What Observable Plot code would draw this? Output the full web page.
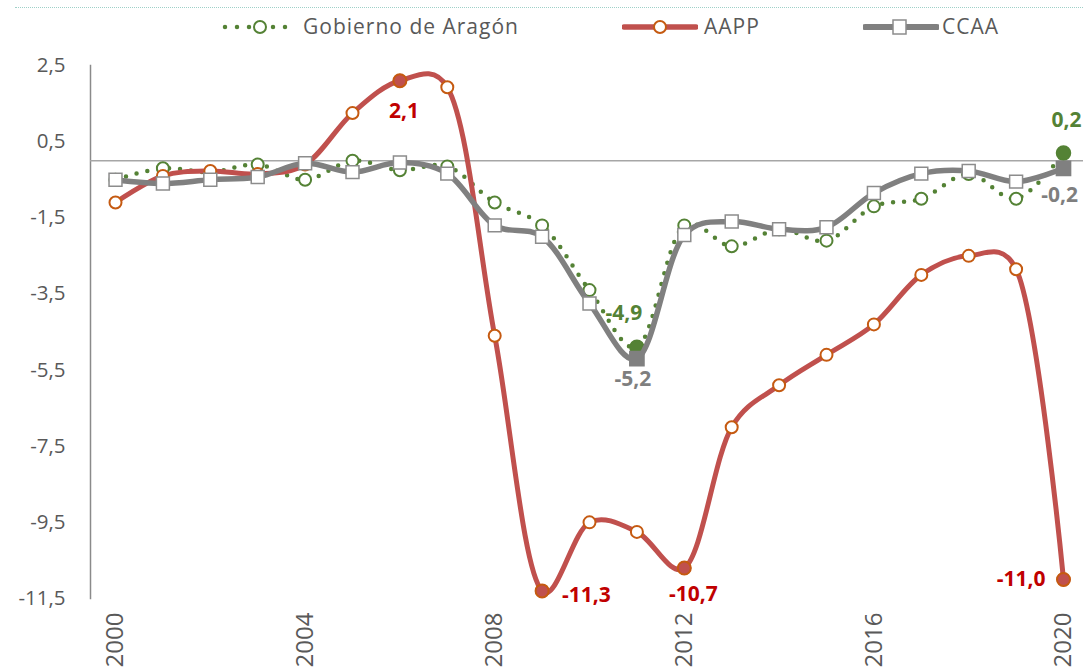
<!DOCTYPE html>
<html><head><meta charset="utf-8">
<script src="https://cdn.jsdelivr.net/npm/d3@7"></script>
<script src="https://cdn.jsdelivr.net/npm/@observablehq/plot@0.6"></script>
<style>
body{margin:0;background:#fff;}
#wrap{width:1083px;height:669px;position:relative;overflow:hidden;font-family:"Open Sans",sans-serif;background:#fff;}
#topline{position:absolute;left:15px;right:0;top:7px;border-top:1px dotted #9fd0c8;}
#legend{position:relative;height:50px;}
.sym{position:absolute;top:13px;}
.lab{position:absolute;top:11px;font-size:21px;color:#595959;letter-spacing:1px;line-height:30px;white-space:nowrap;}
#chart svg{display:block;}
</style></head><body>
<div id="wrap"><div id="topline"></div><div id="legend"></div><div id="chart"></div></div>
<script>
// ---- data ----
const years = [2000,2001,2002,2003,2004,2005,2006,2007,2008,2009,2010,2011,2012,2013,2014,2015,2016,2017,2018,2019,2020];
const aragon = [-0.5,-0.2,-0.3,-0.1,-0.5,0.0,-0.25,-0.15,-1.1,-1.7,-3.4,-4.9,-1.7,-2.25,-1.8,-2.1,-1.2,-1.0,-0.35,-1.0,0.2];
const aapp   = [-1.1,-0.4,-0.27,-0.35,-0.1,1.25,2.1,1.93,-4.6,-11.3,-9.5,-9.75,-10.7,-7.0,-5.9,-5.1,-4.3,-3.0,-2.5,-2.85,-11.0];
const ccaa   = [-0.5,-0.6,-0.5,-0.43,-0.07,-0.3,-0.05,-0.34,-1.7,-2.0,-3.75,-5.2,-1.95,-1.6,-1.8,-1.75,-0.85,-0.34,-0.27,-0.55,-0.2];
const seriesNames = ["Gobierno de Aragón","AAPP","CCAA"];
const aragonMarked = [2011,2020];
const aappMarked = [2006,2009,2012,2020];
const ccaaMarked = [2011,2020];
const yTicks = [2.5,0.5,-1.5,-3.5,-5.5,-7.5,-9.5,-11.5];
const xTicks = [2000,2004,2008,2012,2016,2020];

// ---- styles ----
const GREEN="#548235", RED="#c0504d", REDM="#c55a11", GRAY="#808080";
const LRED="#c00000", LGRAY="#7f7f7f";
const fmt = v => d3.format(".1f")(v).replace(".",",").replace("−","-");

const tbl = arr => years.map((year,i)=>({year, value:arr[i]}));
const A = tbl(aragon), P = tbl(aapp), C = tbl(ccaa);
const pick = (t, ys) => t.filter(d=>ys.includes(d.year));

// ---- legend ----
const legend = document.getElementById("legend");
legend.innerHTML = `
<svg class="sym" style="left:220px" width="72" height="28"><line x1="5" y1="14" x2="68" y2="14" stroke="${GREEN}" stroke-width="4.5" stroke-dasharray="0 12" stroke-linecap="round"/><circle cx="40" cy="14" r="6" fill="white" stroke="${GREEN}" stroke-width="2"/></svg>
<div class="lab" style="left:303px">${seriesNames[0]}</div>
<svg class="sym" style="left:622px" width="76" height="28"><line x1="2" y1="14" x2="74" y2="14" stroke="${RED}" stroke-width="5.5" stroke-linecap="round"/><circle cx="38" cy="14" r="6" fill="white" stroke="${REDM}" stroke-width="2"/></svg>
<div class="lab" style="left:704px">${seriesNames[1]}</div>
<svg class="sym" style="left:863px" width="76" height="28"><line x1="2" y1="14" x2="74" y2="14" stroke="${GRAY}" stroke-width="6" stroke-linecap="round"/><rect x="30" y="7" width="13" height="14" fill="white" stroke="#8c8c8c" stroke-width="1.5"/></svg>
<div class="lab" style="left:942px">${seriesNames[2]}</div>`;

const lbl = (t, ys, fill, o) => Plot.text(pick(t, ys), {x:"year", y:"value", text:d=>fmt(d.value), fill, fontSize:21, fontWeight:"bold", ...o});
const CURVE = {curve:"catmull-rom", tension:0.25};

const chart = Plot.plot({
  width:1083, height:619, marginTop:15, marginBottom:71, marginLeft:90, marginRight:0,
  x:{domain:[2000,2020], range:[115,1063], label:null},
  y:{domain:[-11.5,2.5], label:null},
  style:{fontFamily:"Open Sans", background:"white", overflow:"visible"},
  marks:[
    Plot.frame({anchor:"left", stroke:"#8a8a8a", strokeWidth:1.5}),
    Plot.ruleY([0], {stroke:"#a6a6a6", strokeWidth:1.5}),
    Plot.axisY({ticks:yTicks, tickSize:0, tickPadding:25, tickFormat:fmt, fontSize:20.5, color:"#595959", label:null}),
    Plot.axisX({ticks:xTicks, tickSize:0, tickRotate:-90, tickPadding:14, tickFormat:d=>String(d), fontSize:24, color:"#595959", label:null}),
    // Gobierno de Aragón
    Plot.line(A, {x:"year", y:"value", stroke:GREEN, strokeWidth:4.5, strokeDasharray:"0 11", strokeLinecap:"round", ...CURVE}),
    Plot.dot(A, {x:"year", y:"value", r:6, fill:"white", stroke:GREEN, strokeWidth:2}),
    Plot.dot(pick(A, aragonMarked), {x:"year", y:"value", r:7, fill:GREEN, stroke:GREEN}),
    // AAPP
    Plot.line(P, {x:"year", y:"value", stroke:RED, strokeWidth:5, ...CURVE}),
    Plot.dot(P, {x:"year", y:"value", r:6, fill:"white", stroke:REDM, strokeWidth:2}),
    Plot.dot(pick(P, aappMarked), {x:"year", y:"value", r:6.5, fill:RED, stroke:REDM, strokeWidth:2}),
    // CCAA
    Plot.line(C, {x:"year", y:"value", stroke:GRAY, strokeWidth:5.5, ...CURVE}),
    Plot.dot(C, {x:"year", y:"value", symbol:"square", r:7.3, fill:"white", stroke:"#8c8c8c", strokeWidth:1.5}),
    Plot.dot(pick(C, ccaaMarked), {x:"year", y:"value", symbol:"square", r:8, fill:GRAY, stroke:GRAY}),
    // labels
    lbl(P, [2006], LRED, {dx:4, dy:31}),
    lbl(P, [2009], LRED, {dx:20, dy:4, textAnchor:"start"}),
    lbl(P, [2012], LRED, {dx:9, dy:26}),
    lbl(P, [2020], LRED, {dx:-18, dy:0, textAnchor:"end"}),
    lbl(A, [2011], GREEN, {dx:-13, dy:-34}),
    lbl(C, [2011], LGRAY, {dx:-4, dy:21}),
    lbl(A, [2020], GREEN, {dx:3, dy:-33}),
    lbl(C, [2020], LGRAY, {dx:-4, dy:27})
  ]
});
document.getElementById("chart").appendChild(chart);
</script>
</body></html>
